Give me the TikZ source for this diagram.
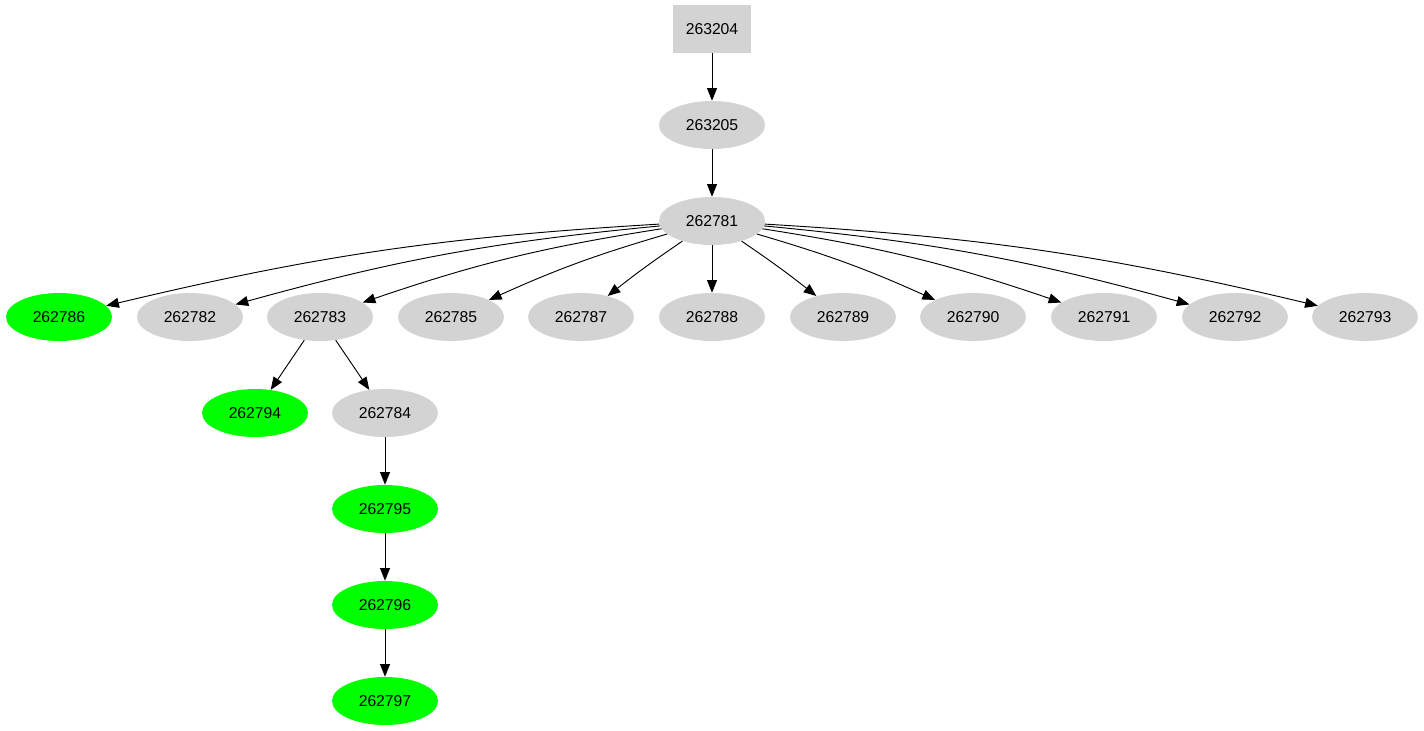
\documentclass[tikz,border=0pt]{standalone}
\usepackage{fontspec}
\setmainfont{Liberation Sans}
\usetikzlibrary{shapes.geometric,arrows.meta}
\definecolor{nodegray}{RGB}{211,211,211}
\definecolor{nodegreen}{RGB}{0,255,0}
\begin{document}
\begin{tikzpicture}[x=0.75pt,y=-0.75pt,
  base/.style={inner sep=0pt,font=\fontsize{11.8}{13}\selectfont,text=black},
  ell/.style={base,ellipse,fill=nodegray,minimum width=79.5pt,minimum height=36pt},
  gell/.style={ell,fill=nodegreen},
  boxnode/.style={base,rectangle,fill=nodegray,minimum width=58.5pt,minimum height=36pt},
  edge/.style={draw=black,line width=0.7pt,-{Triangle[length=9.5pt,width=7.5pt]}}]
\useasboundingbox (0,0) rectangle (1424,731);
\node[boxnode] (n263204) at (712,29) {263204};
\node[ell] (n263205) at (712,125) {263205};
\node[ell] (n262781) at (712,221) {262781};
\node[gell] (n262786) at (59,317) {262786};
\node[ell] (n262782) at (190,317) {262782};
\node[ell] (n262783) at (320,317) {262783};
\node[ell] (n262785) at (451,317) {262785};
\node[ell] (n262787) at (581,317) {262787};
\node[ell] (n262788) at (712,317) {262788};
\node[ell] (n262789) at (843,317) {262789};
\node[ell] (n262790) at (973,317) {262790};
\node[ell] (n262791) at (1104,317) {262791};
\node[ell] (n262792) at (1235,317) {262792};
\node[ell] (n262793) at (1365,317) {262793};
\node[gell] (n262794) at (255,413) {262794};
\node[ell] (n262784) at (385,413) {262784};
\node[gell] (n262795) at (385,509) {262795};
\node[gell] (n262796) at (385,605) {262796};
\node[gell] (n262797) at (385,701) {262797};
\draw[edge] (n263204) -- (n263205);
\draw[edge] (n263205) -- (n262781);
\draw[edge] (n262781) to[bend right=5] (n262786);
\draw[edge] (n262781) to[bend right=5] (n262782);
\draw[edge] (n262781) to[bend right=5] (n262783);
\draw[edge] (n262781) to[bend right=4] (n262785);
\draw[edge] (n262781) to[bend right=2] (n262787);
\draw[edge] (n262781) -- (n262788);
\draw[edge] (n262781) to[bend left=2] (n262789);
\draw[edge] (n262781) to[bend left=4] (n262790);
\draw[edge] (n262781) to[bend left=5] (n262791);
\draw[edge] (n262781) to[bend left=5] (n262792);
\draw[edge] (n262781) to[bend left=5] (n262793);
\draw[edge] (n262783) -- (n262794);
\draw[edge] (n262783) -- (n262784);
\draw[edge] (n262784) -- (n262795);
\draw[edge] (n262795) -- (n262796);
\draw[edge] (n262796) -- (n262797);
\end{tikzpicture}
\end{document}
